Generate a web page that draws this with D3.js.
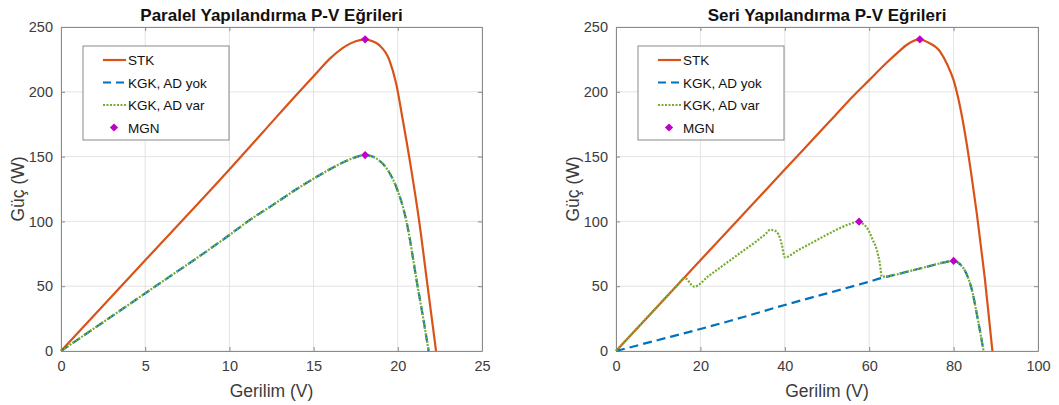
<!DOCTYPE html>
<html lang="tr">
<head>
<meta charset="UTF-8" />
<title>P-V Eğrileri</title>
<script src="https://d3js.org/d3.v7.min.js"></script>
<style>
  body { margin: 0; background: #fff; }
  svg text { font-family: "Liberation Sans", Arial, sans-serif; }
</style>
</head>
<body>
<svg id="chart" width="1059" height="405"></svg>
<script>
// ---- data ----
// paralel
const parV_stk = [0, 5, 10, 12, 14, 15, 16, 17, 17.5, 18.06, 18.5, 18.9, 19.5, 19.9, 20.3, 20.8, 21.25, 21.77, 22.27];
const parP_stk = [0, 70, 140, 169, 198, 212, 226, 236, 239, 240.5, 239, 236, 224.5, 206.5, 178, 140, 102, 50, 0];
const parV_kgk = [0, 5, 10, 11.2, 12.5, 14, 15, 16, 17, 17.6, 18.06, 18.5, 18.9, 19.4, 19.9, 20.5, 21.18, 21.5, 21.83];
const parP_kgk = [0, 44.5, 89.5, 101, 112, 125, 133, 140.5, 147, 150, 151.2, 150, 147, 139.7, 126.8, 101, 49.6, 26, 0];
const parMgnV = [18.06, 18.06];
const parMgnP = [240.5, 151.2];

// seri
const serV_stk = [0, 20, 40, 48, 52, 56, 60, 64, 67, 69, 72, 74, 76.8, 78.5, 80, 81.5, 83.1, 84.3, 85.5, 86.5, 87.5, 88.4, 89.2];
const serP_stk = [0, 70, 140, 168, 182, 196, 209, 222, 231, 236.5, 240.5, 238, 231, 221, 209, 189, 160, 134, 106, 80, 53, 25, 0];
const serV_yok = [0, 10, 20, 30, 40, 50, 60, 63, 66, 70, 74, 77, 79, 80, 81.5, 82.5, 83.5, 84.5, 85.3, 86, 86.5, 87.1];
const serP_yok = [0, 8.5, 17, 26, 35.5, 44.5, 53.5, 56.4, 58.7, 62, 65.3, 67.8, 69.2, 69.5, 67, 63, 56, 45, 32, 20, 11, 0];
const serV_var = [0, 4, 8, 12, 15, 15.95, 16.8, 17.6, 18.5, 22, 26, 30, 33, 35.5, 36.5, 37.5, 38.5, 39.3, 40, 43, 47, 51, 55, 57.6, 58.6, 59.8, 60.8, 61.8, 62.5, 63, 66, 70, 74, 77, 79, 80, 81.5, 82.5, 83.5, 84.5, 85.3, 86, 86.5, 87.1];
const serP_var = [0, 14, 28, 42, 52.5, 56.1, 55.5, 52, 49.6, 58, 67.5, 77, 84, 90.5, 93.5, 93, 90, 82, 72.3, 77.5, 84.5, 91.5, 97.5, 99.8, 98, 93.4, 86, 78, 68, 57.3, 58.7, 62, 65.3, 67.8, 69.2, 69.5, 67, 63, 56, 45, 32, 20, 11, 0];
const serMgnV = [72, 57.6, 80];
const serMgnP = [240.5, 99.8, 69.5];

const parXTicks = [0, 5, 10, 15, 20, 25];
const serXTicks = [0, 20, 40, 60, 80, 100];
const yTicks = [0, 50, 100, 150, 200, 250];
const legendLabels = ["STK", "KGK, AD yok", "KGK, AD var", "MGN"];

const C_STK = "#d95319", C_YOK = "#0072bd", C_VAR = "#77ac30", C_MGN = "#c000c8";

const zip = (xs, ys) => xs.map((x, i) => [x, ys[i]]);
const svg = d3.select("#chart");
// matlab style diamond: a square turned 45 degrees
const diamond = d3.symbol().type(d3.symbolSquare).size(34);

function panel(opt) {
  const x = d3.scaleLinear().domain(opt.xDomain).range([opt.left, opt.right]);
  const y = d3.scaleLinear().domain([0, 250]).range([351, 27]);
  const g = svg.append("g");

  // grid
  g.append("g").selectAll("line").data(opt.xTicks).join("line")
    .attr("x1", d => x(d)).attr("x2", d => x(d)).attr("y1", 27).attr("y2", 351)
    .attr("stroke", "#e3e3e3").attr("stroke-width", 1);
  g.append("g").selectAll("line").data(yTicks).join("line")
    .attr("y1", d => y(d)).attr("y2", d => y(d)).attr("x1", opt.left).attr("x2", opt.right)
    .attr("stroke", "#e3e3e3").attr("stroke-width", 1);

  // axes (ticks pointing inside)
  const ax = (sel, axis) => {
    sel.call(axis);
    sel.select(".domain").attr("stroke", "#8a8a8a");
    sel.selectAll(".tick line").attr("stroke", "#8a8a8a");
    sel.selectAll(".tick text").attr("fill", "#3c3c3c").style("font-size", "14.5px")
      .style("font-family", '"Liberation Sans", Arial, sans-serif');
  };
  g.append("g").attr("transform", "translate(0,351)")
    .call(s => ax(s, d3.axisBottom(x).tickValues(opt.xTicks).tickSizeInner(-4).tickSizeOuter(0).tickPadding(10)));
  g.append("g").attr("transform", "translate(" + opt.left + ",0)")
    .call(s => ax(s, d3.axisLeft(y).tickValues(yTicks).tickSizeInner(-4).tickSizeOuter(0).tickPadding(8)));
  g.append("g").attr("transform", "translate(0,27)")
    .call(s => ax(s, d3.axisTop(x).tickValues(opt.xTicks).tickSizeInner(-4).tickSizeOuter(0).tickFormat("")));
  g.append("g").attr("transform", "translate(" + opt.right + ",0)")
    .call(s => ax(s, d3.axisRight(y).tickValues(yTicks).tickSizeInner(-4).tickSizeOuter(0).tickFormat("")));

  const line = d3.line().x(d => x(d[0])).y(d => y(d[1])).curve(d3.curveMonotoneX);

  g.append("path").datum(opt.stk).attr("d", line)
    .attr("fill", "none").attr("stroke", C_STK).attr("stroke-width", 2.2);
  g.append("path").datum(opt.yok).attr("d", line)
    .attr("fill", "none").attr("stroke", C_YOK).attr("stroke-width", 2.2).attr("stroke-dasharray", "9,5");
  g.append("path").datum(opt.vari).attr("d", line)
    .attr("fill", "none").attr("stroke", C_VAR).attr("stroke-width", 2.2).attr("stroke-dasharray", "2,1.5");

  g.selectAll(".mgn").data(opt.mgn).join("path")
    .attr("transform", d => "translate(" + x(d[0]) + "," + y(d[1]) + ") rotate(45)")
    .attr("d", diamond).attr("fill", C_MGN);

  // title and labels
  const cx = (opt.left + opt.right) / 2;
  g.append("text").attr("x", cx).attr("y", 21).attr("text-anchor", "middle")
    .style("font-size", "17px").style("font-weight", "bold").attr("fill", "#111").text(opt.title);
  g.append("text").attr("x", cx).attr("y", 397).attr("text-anchor", "middle")
    .style("font-size", "17.5px").attr("fill", "#3c3c3c").text("Gerilim (V)");
  g.append("text").attr("transform", "translate(" + (opt.left - 37) + ",189) rotate(-90)")
    .attr("text-anchor", "middle").style("font-size", "17.5px").attr("fill", "#3c3c3c").text("Güç (W)");

  // legend
  const lx = opt.left + 22, ly = 46;
  const lg = g.append("g");
  lg.append("rect").attr("x", lx).attr("y", ly).attr("width", 146).attr("height", 94)
    .attr("fill", "#fff").attr("stroke", "#8a8a8a").attr("stroke-width", 1);
  const sty = [
    { c: C_STK, dash: null },
    { c: C_YOK, dash: "8,5" },
    { c: C_VAR, dash: "2,1.5" },
    { c: C_MGN, dash: null, marker: true }
  ];
  legendLabels.forEach((lab, i) => {
    const yy = ly + 14 + i * 22.5;
    if (sty[i].marker) {
      lg.append("path").attr("transform", "translate(" + (lx + 31) + "," + yy + ") rotate(45)")
        .attr("d", diamond).attr("fill", C_MGN);
    } else {
      lg.append("line").attr("x1", lx + 20).attr("x2", lx + 43).attr("y1", yy).attr("y2", yy)
        .attr("stroke", sty[i].c).attr("stroke-width", 2.2)
        .attr("stroke-dasharray", sty[i].dash);
    }
    lg.append("text").attr("x", lx + 45).attr("y", yy + 5)
      .style("font-size", "13.5px").attr("fill", "#111").text(lab);
  });
}

panel({
  left: 61, right: 482, xDomain: [0, 25], xTicks: parXTicks,
  title: "Paralel Yapılandırma P-V Eğrileri",
  stk: zip(parV_stk, parP_stk), yok: zip(parV_kgk, parP_kgk), vari: zip(parV_kgk, parP_kgk),
  mgn: zip(parMgnV, parMgnP)
});
panel({
  left: 616, right: 1038, xDomain: [0, 100], xTicks: serXTicks,
  title: "Seri Yapılandırma P-V Eğrileri",
  stk: zip(serV_stk, serP_stk), yok: zip(serV_yok, serP_yok), vari: zip(serV_var, serP_var),
  mgn: zip(serMgnV, serMgnP)
});
</script>
</body>
</html>
